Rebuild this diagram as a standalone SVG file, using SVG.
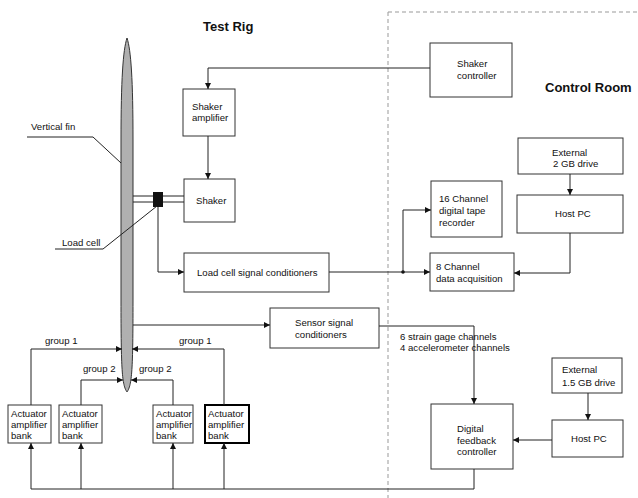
<svg xmlns="http://www.w3.org/2000/svg" width="638" height="498" viewBox="0 0 638 498">
<defs>
<marker id="ah" markerWidth="6" markerHeight="6" refX="6" refY="3" orient="auto" markerUnits="userSpaceOnUse">
<path d="M0,0 L6,3 L0,6 z" fill="#111"/>
</marker>
<style>
.box{fill:#fff;stroke:#333;stroke-width:1}
.t{font-family:"Liberation Sans",Arial,sans-serif;font-size:9.6px;fill:#111}
.h{font-family:"Liberation Sans",Arial,sans-serif;font-size:13px;font-weight:bold;fill:#111}
.c{fill:none;stroke:#222;stroke-width:1}
.a{fill:none;stroke:#222;stroke-width:1;marker-end:url(#ah)}
</style>
</defs>
<rect width="638" height="498" fill="#fff"/>

<g id="titles">
<text class="h" x="203" y="31">Test Rig</text>
<text class="h" x="545" y="92">Control Room</text>
</g>

<g id="control-room-boundary">
<path d="M388,12 H638 M388,12 V498" fill="none" stroke="#999" stroke-width="1" stroke-dasharray="4,3"/>
</g>

<g id="vertical-fin">
<path d="M127,38 C131,50 133,80 133,140 L133,300 C133,370 132,385 127,392 C122,385 121,370 121,300 L121,140 C121,80 123,50 127,38 Z" fill="#b0b0b0" stroke="#333" stroke-width="1"/>
<path class="c" d="M27,137 H93 L121,163"/>
<text class="t" x="31" y="130">Vertical fin</text>
</g>

<g id="load-cell">
<rect x="153" y="192" width="10" height="15" fill="#111"/>
<path class="c" d="M55,249 H103 L157,206"/>
<text class="t" x="62" y="246">Load cell</text>
</g>

<g id="shaker-amplifier">
<rect class="box" x="183" y="89" width="52" height="47"/>
<text class="t" x="192" y="110">Shaker</text>
<text class="t" x="192" y="121">amplifier</text>
</g>

<g id="shaker">
<rect class="box" x="184" y="179" width="51" height="43"/>
<text class="t" x="196" y="204">Shaker</text>
</g>

<g id="shaker-controller">
<rect class="box" x="430" y="43" width="82" height="54"/>
<text class="t" x="457" y="67">Shaker</text>
<text class="t" x="457" y="79">controller</text>
</g>

<g id="external-2gb">
<rect class="box" x="518" y="138" width="105" height="36"/>
<text class="t" x="552" y="156">External</text>
<text class="t" x="553" y="167">2 GB drive</text>
</g>

<g id="host-pc-1">
<rect class="box" x="517" y="195" width="106" height="38"/>
<text class="t" x="555" y="217">Host PC</text>
</g>

<g id="tape-recorder">
<rect class="box" x="431" y="181" width="71" height="56"/>
<text class="t" x="439" y="202">16 Channel</text>
<text class="t" x="439" y="214">digital tape</text>
<text class="t" x="439" y="226">recorder</text>
</g>

<g id="data-acquisition">
<rect class="box" x="430" y="253" width="84" height="38"/>
<text class="t" x="436" y="270">8 Channel</text>
<text class="t" x="436" y="282">data acquisition</text>
</g>

<g id="load-cell-conditioners">
<rect class="box" x="184" y="253" width="145" height="39"/>
<text class="t" x="197" y="276">Load cell signal conditioners</text>
</g>

<g id="sensor-conditioners">
<rect class="box" x="270" y="308" width="109" height="40"/>
<text class="t" x="295" y="326">Sensor signal</text>
<text class="t" x="295" y="338">conditioners</text>
</g>

<g id="external-1-5gb">
<rect class="box" x="552" y="358" width="70" height="35"/>
<text class="t" x="562" y="373">External</text>
<text class="t" x="562" y="386">1.5 GB drive</text>
</g>

<g id="host-pc-2">
<rect class="box" x="552" y="420" width="71" height="37"/>
<text class="t" x="571" y="442">Host PC</text>
</g>

<g id="feedback-controller">
<rect class="box" x="431" y="404" width="82" height="65"/>
<text class="t" x="457" y="432">Digital</text>
<text class="t" x="457" y="444">feedback</text>
<text class="t" x="457" y="455">controller</text>
</g>

<g id="actuator-1">
<rect class="box" x="8" y="405" width="43" height="38"/>
<text class="t" x="11" y="417">Actuator</text>
<text class="t" x="11" y="428">amplifier</text>
<text class="t" x="11" y="439">bank</text>
</g>
<g id="actuator-2">
<rect class="box" x="59" y="405" width="43" height="38"/>
<text class="t" x="62" y="417">Actuator</text>
<text class="t" x="62" y="428">amplifier</text>
<text class="t" x="62" y="439">bank</text>
</g>
<g id="actuator-3">
<rect class="box" x="153" y="405" width="40" height="38"/>
<text class="t" x="156" y="417">Actuator</text>
<text class="t" x="156" y="428">amplifier</text>
<text class="t" x="156" y="439">bank</text>
</g>
<g id="actuator-4">
<rect x="205" y="405" width="44" height="38" fill="#fff" stroke="#000" stroke-width="2"/>
<text class="t" x="208" y="417">Actuator</text>
<text class="t" x="208" y="428">amplifier</text>
<text class="t" x="208" y="439">bank</text>
</g>

<g id="connectors">
<path class="a" d="M430,68 H208 V89"/>
<path class="a" d="M208,136 V179"/>
<path class="c" d="M133,196 H153 M133,202 H153 M163,196 H184 M163,202 H184"/>
<path class="a" d="M158,207 V272 H184"/>
<path class="a" d="M329,272 H430"/>
<circle cx="403" cy="272" r="1.8" fill="#111"/>
<path class="a" d="M403,272 V210 H431"/>
<path class="a" d="M570,174 V195"/>
<path class="a" d="M570,233 V273 H514"/>
<path class="a" d="M133,325 H270"/>
<path class="a" d="M379,326 H474 V404"/>
<text class="t" x="400" y="340">6 strain gage channels</text>
<text class="t" x="400" y="351">4 accelerometer channels</text>
<path class="a" d="M588,393 V420"/>
<path class="a" d="M552,440 H513"/>
<path class="c" d="M474,469 V489 H31"/>
<path class="a" d="M31,489 V443"/>
<path class="a" d="M81,489 V443"/>
<path class="a" d="M173,489 V443"/>
<path class="a" d="M224,489 V443"/>
<path class="a" d="M31,405 V349 H122"/>
<path class="a" d="M81,405 V380 H123"/>
<path class="a" d="M173,405 V380 H131"/>
<path class="a" d="M224,405 V349 H132"/>
<text class="t" x="45" y="344">group 1</text>
<text class="t" x="83" y="372">group 2</text>
<text class="t" x="139" y="372">group 2</text>
<text class="t" x="179" y="344">group 1</text>
</g>
</svg>
